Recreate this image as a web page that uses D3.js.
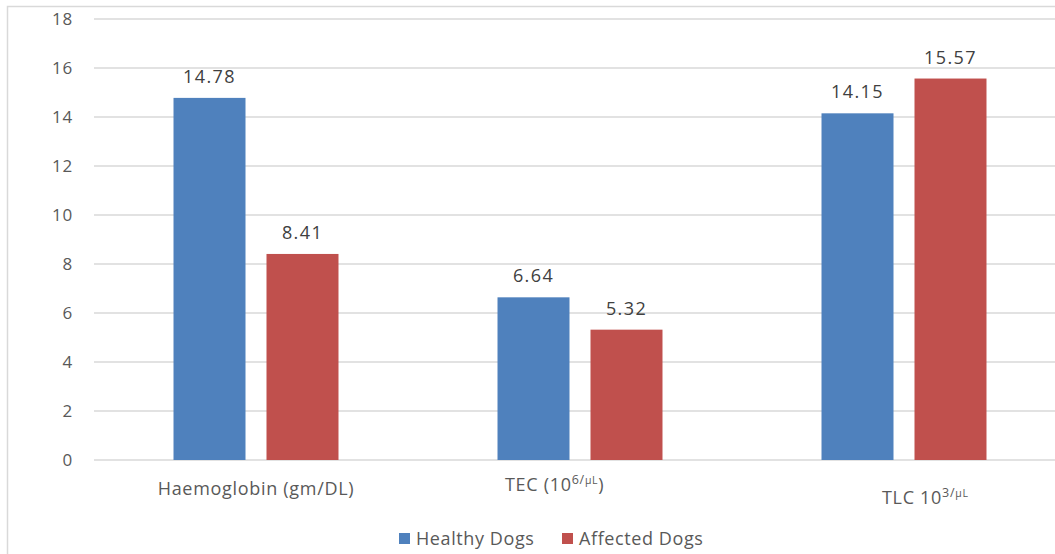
<!DOCTYPE html>
<html><head><meta charset="utf-8">
<script src="https://cdn.jsdelivr.net/npm/d3@7"></script>
<style>
body{margin:0;background:#fff;}
svg text{font-family:"Open Sans", Lato, sans-serif;}
</style></head>
<body><svg id="c" width="1055" height="554"></svg>
<script>
const categories = ["Haemoglobin (gm/DL)", "TEC", "TLC"];
const seriesNames = ["Healthy Dogs", "Affected Dogs"];
const healthy = [14.78, 6.64, 14.15];
const affected = [8.41, 5.32, 15.57];
const yTicks = [0, 2, 4, 6, 8, 10, 12, 14, 16, 18];
const colors = ["#4F81BD", "#C0504D"];

(function(){
const FONT = '"Open Sans", Lato, sans-serif';
const svg = d3.select("#c");
svg.append("rect").attr("x",7.5).attr("y",6.5).attr("width",1100).attr("height",600)
  .attr("fill","#fff").attr("stroke","#d9d9d9").attr("stroke-width",1.5);

const pl = 94, pr = 1066, pt = 19, pb = 460;
const x = d3.scaleBand().domain(categories).range([pl, pr]).paddingInner(0).paddingOuter(0);
const xs = d3.scaleBand().domain(seriesNames).range([0, x.bandwidth()]).paddingInner(0.2258).paddingOuter(0.855);
const y = d3.scaleLinear().domain([0, 18]).range([pb, pt]);

svg.append("g").selectAll("line").data(yTicks).join("line")
  .attr("x1", pl).attr("x2", 1055).attr("y1", d=>y(d)).attr("y2", d=>y(d))
  .attr("stroke","#d9d9d9").attr("stroke-width",1.5);

const yAxis = d3.axisLeft(y).tickValues(yTicks).tickSize(0).tickPadding(0);
const gy = svg.append("g").attr("transform",`translate(73,0)`).call(yAxis);
gy.select(".domain").remove();
gy.attr("font-family", FONT);
gy.selectAll("text").attr("font-size",17).attr("letter-spacing",0.8).attr("fill","#595959").attr("dy","0.35em");

const data = categories.map((c,i)=>({cat:c, vals:[healthy[i], affected[i]]}));
const g = svg.append("g");
data.forEach(d=>{
  d.vals.forEach((v,j)=>{
    const bx = x(d.cat) + xs(seriesNames[j]);
    g.append("rect").attr("x",bx).attr("y",y(v)).attr("width",xs.bandwidth()).attr("height",y(0)-y(v))
      .attr("fill",colors[j]);
    g.append("text").attr("x",bx+xs.bandwidth()/2).attr("y",y(v)-15).attr("text-anchor","middle")
      .attr("font-size",18).attr("letter-spacing",1.4).attr("fill","#404040").text(v.toFixed(2));
  });
});

const xAxis = d3.axisBottom(x).tickSize(0).tickFormat(()=> "");
const gx = svg.append("g").attr("transform",`translate(0,${pb})`).call(xAxis);
gx.select(".domain").remove();
gx.attr("font-family", FONT);
gx.selectAll(".tick").each(function(d,i){
  const t = d3.select(this).append("text").attr("fill","#595959").attr("font-size",18).attr("letter-spacing",0.7);
  if(i===0){
    t.attr("y",35).attr("text-anchor","middle").text(d);
  } else if(i===1){
    t.attr("x",-75).attr("y",31).attr("text-anchor","start");
    t.append("tspan").text("TEC (10");
    t.append("tspan").attr("font-size",12.5).attr("dy",-7).text("6/");
    t.append("tspan").attr("font-size",10.5).text("µL");
    t.append("tspan").attr("dy",7).text(")");
  } else {
    t.attr("x",-22).attr("y",44).attr("text-anchor","start");
    t.append("tspan").text("TLC 10");
    t.append("tspan").attr("font-size",12.5).attr("dy",-7).text("3/");
    t.append("tspan").attr("font-size",10.5).text("µL");
  }
});

const leg = svg.append("g").attr("font-family", FONT);
const legX = [399, 562];
seriesNames.forEach((s,j)=>{
  leg.append("rect").attr("x",legX[j]).attr("y",533).attr("width",11).attr("height",11).attr("fill",colors[j]);
  leg.append("text").attr("x",legX[j]+17).attr("y",545).attr("font-size",18).attr("letter-spacing",0.6).attr("fill","#595959").text(s);
});
})();
</script></body></html>
